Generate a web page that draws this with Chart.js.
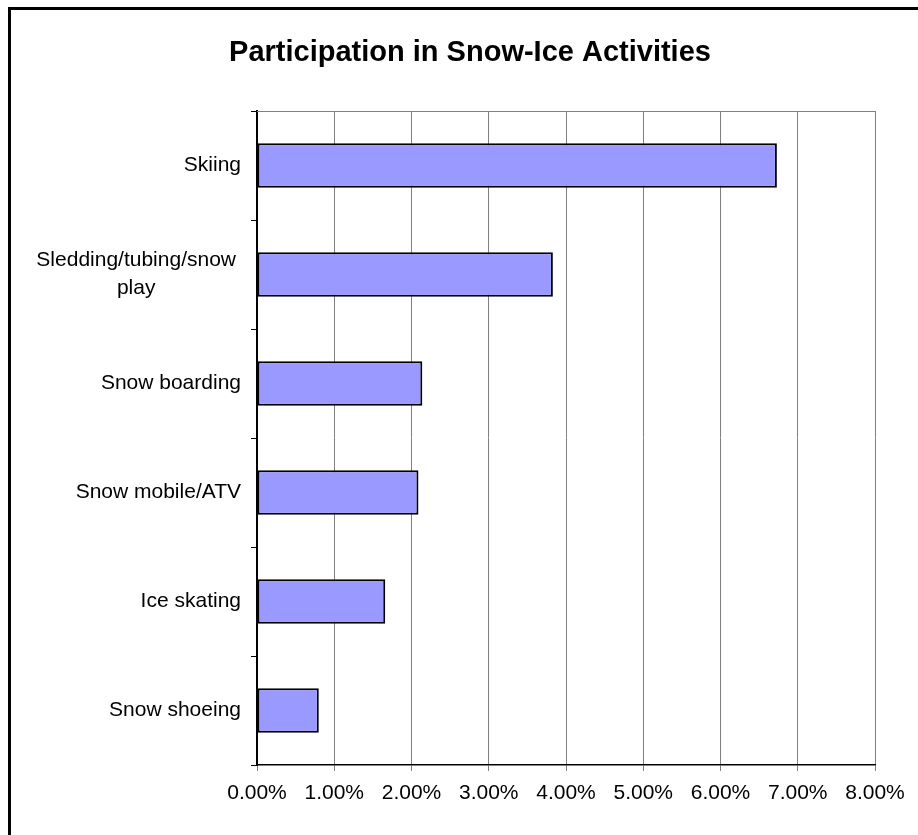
<!DOCTYPE html>
<html lang="en">
<head>
    <meta charset="UTF-8">
    <title>Participation in Snow-Ice Activities</title>
    <script src="https://cdn.jsdelivr.net/npm/chart.js"></script>
    <style>
        html, body { margin: 0; padding: 0; background: #fff; overflow: hidden; }
        #frame { position: absolute; left: 8px; top: 7px; width: 1000px; height: 1000px; border: 3px solid #000; }
        #snowChart { position: absolute; left: 0; top: 0; }
    </style>
</head>
<body>
    <div id="frame"></div>
    <canvas id="snowChart" width="918" height="835"></canvas>

    <script>
        const chartTitle = 'Participation in Snow-Ice Activities';
        // activities, top to bottom
        const activities = [
            'Skiing',
            ['Sledding/tubing/snow', 'play'],
            'Snow boarding',
            'Snow mobile/ATV',
            'Ice skating',
            'Snow shoeing'
        ];
        // participation in percent
        const participation = [6.73, 3.83, 2.14, 2.09, 1.66, 0.80];
        const xTicks = [0, 1, 2, 3, 4, 5, 6, 7, 8];

        const fontFamily = '"Liberation Sans", Arial, sans-serif';

        // title, plot top edge and category labels (multi-line ones centred like Excel)
        const excelBits = {
            id: 'excelBits',
            beforeDatasetsDraw(chart) {
                const ctx = chart.ctx;
                const area = chart.chartArea;
                ctx.save();
                ctx.strokeStyle = '#808080';
                ctx.lineWidth = 1;
                ctx.beginPath();
                ctx.moveTo(area.left, area.top + 0.5);
                ctx.lineTo(area.right, area.top + 0.5);
                ctx.stroke();
                ctx.restore();
            },
            afterDraw(chart) {
                const ctx = chart.ctx;
                const yScale = chart.scales.y;
                const right = yScale.right - 16;
                ctx.save();
                ctx.fillStyle = '#000';
                ctx.textBaseline = 'middle';

                ctx.font = 'bold 29px ' + fontFamily;
                ctx.textAlign = 'center';
                ctx.fillText(chartTitle, 470, 53);

                ctx.font = '21px ' + fontFamily;
                activities.forEach((label, i) => {
                    const y = yScale.getPixelForValue(i);
                    if (Array.isArray(label)) {
                        const maxW = Math.max(...label.map(l => ctx.measureText(l).width));
                        const cx = right - 5 - maxW / 2;
                        const step = 28;
                        const y0 = y - step * (label.length - 1) / 2;
                        ctx.textAlign = 'center';
                        label.forEach((line, j) => ctx.fillText(line, cx, y0 + j * step));
                    } else {
                        ctx.textAlign = 'right';
                        ctx.fillText(label, right, y);
                    }
                });
                ctx.restore();
            }
        };

        const ctx = document.getElementById('snowChart').getContext('2d');
        new Chart(ctx, {
            type: 'bar',
            data: {
                labels: activities,
                datasets: [{
                    data: participation,
                    backgroundColor: '#9999FF',
                    borderColor: '#000000',
                    borderWidth: 2,
                    borderSkipped: false,
                    barPercentage: 0.41,
                    categoryPercentage: 1
                }]
            },
            options: {
                indexAxis: 'y',
                responsive: false,
                animation: false,
                layout: { padding: { left: 0, right: 43, top: 111, bottom: 0 } },
                plugins: {
                    legend: { display: false },
                    tooltip: { enabled: false },
                    title: { display: false }
                },
                scales: {
                    x: {
                        min: xTicks[0],
                        max: xTicks[xTicks.length - 1],
                        afterBuildTicks(scale) {
                            scale.ticks = xTicks.map(v => ({ value: v }));
                        },
                        afterFit(scale) { scale.height = 70; },
                        ticks: {
                            color: '#000',
                            padding: 10,
                            font: { family: fontFamily, size: 21 },
                            callback: v => v.toFixed(2) + '%'
                        },
                        grid: { color: '#808080', lineWidth: 1, tickLength: 6, tickColor: '#808080' },
                        border: { color: '#000', width: 1.5 }
                    },
                    y: {
                        afterFit(scale) { scale.width = 257; },
                        ticks: { display: false },
                        grid: { drawOnChartArea: false, offset: true, tickLength: 6, color: '#000', lineWidth: 1 },
                        border: { color: '#000', width: 2 }
                    }
                }
            },
            plugins: [excelBits]
        });
    </script>
</body>
</html>
